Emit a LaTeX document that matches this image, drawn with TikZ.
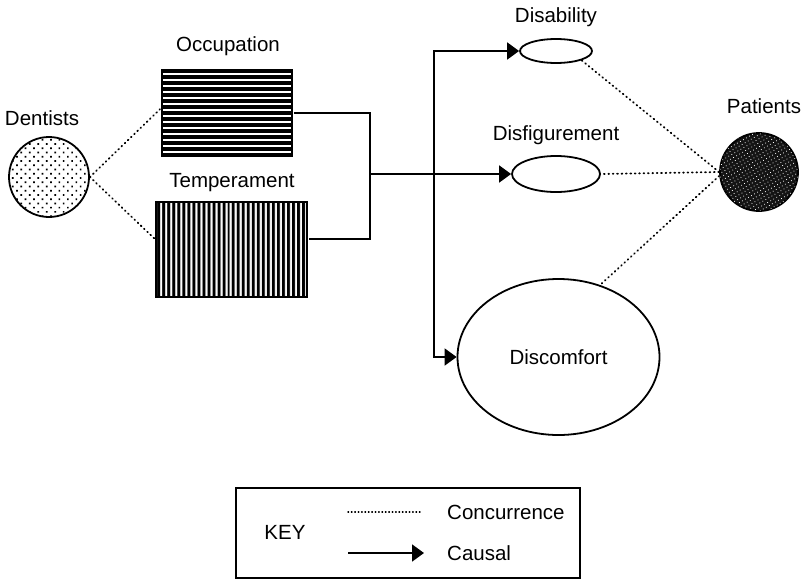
\documentclass[tikz,border=0pt]{standalone}
\usepackage{fontspec}
\setmainfont{Liberation Sans}
\usetikzlibrary{shapes.geometric,arrows.meta,patterns,patterns.meta}
\begin{document}
\begin{tikzpicture}[x=1pt,y=-1pt,
  every node/.style={font=\fontsize{20.5}{24}\selectfont},
  lbl/.style={inner sep=0pt},
  shp/.style={draw,line width=1.8pt},
  causal/.style={line width=1.8pt,-{Triangle[length=12pt,width=17pt]}},
  plainline/.style={line width=1.8pt},
  concur/.style={line width=1.8pt,dash pattern=on 0.8pt off 3.6pt,line cap=round},
]
\useasboundingbox (0,0) rectangle (802,581);
% nodes
\node[shp,circle,minimum size=80pt,inner sep=0pt,
      pattern={Dots[distance=6pt,radius=1.2pt,angle=45]}] (dent) at (49,177) {};
\node[lbl] (dentlbl) at (42,118) {Dentists};
\node[shp,rectangle,minimum width=130pt,minimum height=87pt,inner sep=0pt,
      pattern={Lines[angle=0,distance=6pt,line width=3.6pt]}] (occ) at (227,113) {};
\node[lbl] (occlbl) at (228,46) {Occupation};
\node[shp,rectangle,minimum width=151pt,minimum height=95pt,inner sep=0pt,
      pattern={Lines[angle=90,distance=5.4pt,line width=3.3pt]}] (temp) at (231.5,249.5) {};
\node[lbl] (templbl) at (232,183) {Temperament};
\node[shp,ellipse,minimum width=72pt,minimum height=24pt,inner sep=0pt] (disab) at (556,51) {};
\node[lbl] (disablbl) at (556,17) {Disability};
\node[shp,ellipse,minimum width=88pt,minimum height=36pt,inner sep=0pt] (disfig) at (556,174) {};
\node[lbl] (disfiglbl) at (556,135) {Disfigurement};
\node[shp,ellipse,minimum width=202pt,minimum height=156pt,inner sep=0pt] (disc) at (558.5,357) {Discomfort};
\node[shp,circle,minimum size=78pt,inner sep=0pt,fill=black!92,
      postaction={pattern={Dots[distance=3.5pt,radius=0.55pt,angle=30]},pattern color=white}] (pat) at (759,172) {};
\node[lbl] (patlbl) at (764,106) {Patients};
% junctions
\coordinate (j1) at (370,174);
\coordinate (j2) at (434,174);
% causal
\draw[plainline] (occ.east) -| (j1) |- ([yshift=10.5pt]temp.east);
\draw[causal] (j1) -- (disfig.west);
\draw[causal] (j2) |- (disab.west);
\draw[causal] (j2) |- (disc.west);
% concurrence
\draw[concur] (dent.east) -- ([yshift=4pt]occ.west);
\draw[concur] (dent.east) -- ([yshift=11pt]temp.west);
\draw[concur] (pat.west) -- (disab.-20);
\draw[concur] (pat.west) -- (disfig.east);
\draw[concur] ([yshift=-4pt]pat.west) -- (disc.60);
% key
\node[draw,line width=1.8pt,rectangle,minimum width=344pt,minimum height=90pt,inner sep=0pt] (key) at (408,533) {};
\node[lbl] (keylbl) at (285,532) {KEY};
\coordinate (k1) at (348,512);
\coordinate (k2) at (422,512);
\coordinate (k3) at (348,553);
\coordinate (k4) at (424,553);
\draw[line width=1.4pt,dash pattern=on 0.6pt off 2.8pt,line cap=round] (k1) -- (k2);
\draw[causal] (k3) -- (k4);
\node[lbl,anchor=west] (conclbl) at (447,512) {Concurrence};
\node[lbl,anchor=west] (causlbl) at (447,553) {Causal};
\end{tikzpicture}
\end{document}
